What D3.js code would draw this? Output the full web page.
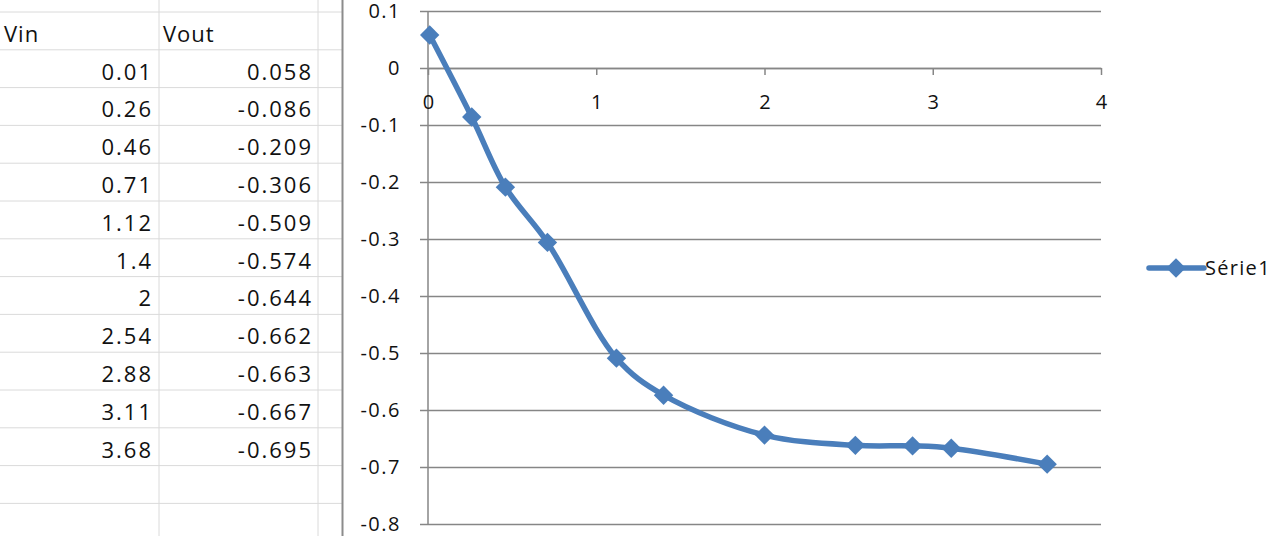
<!DOCTYPE html>
<html>
<head>
<meta charset="utf-8">
<script src="https://cdn.jsdelivr.net/npm/d3@7"></script>
<style>
  html, body { margin: 0; padding: 0; background: #fff; }
  svg text { font-family: "Open Sans", "DejaVu Sans", sans-serif; fill: #111; }
</style>
</head>
<body>
<div id="chart"></div>
<script>
// data read from the sheet / chart
var vin  = [0.01, 0.26, 0.46, 0.71, 1.12, 1.4, 2, 2.54, 2.88, 3.11, 3.68];
var vout = [0.058, -0.086, -0.209, -0.306, -0.509, -0.574, -0.644, -0.662, -0.663, -0.667, -0.695];
var headers = ["Vin", "Vout"];
var xTicks = [0, 1, 2, 3, 4];
var yTicks = [0.1, 0, -0.1, -0.2, -0.3, -0.4, -0.5, -0.6, -0.7, -0.8];
var seriesName = "Série1";

var W = 1280, H = 536;
var blue = "#4a7ebb";

// plain hyphen like the spreadsheet, not the unicode minus
function fmt(spec) {
    var f = d3.format(spec);
    return function(d) { return f(d).replace("\u2212", "-"); };
}

var svg = d3.select("#chart").append("svg")
    .attr("width", W)
    .attr("height", H);

//----------------------------------------------------------------
// spreadsheet part on the left
var table = svg.append("g").attr("class", "sheet");
var rowH = 37.8, top0 = 12;
var colX = [0, 159, 318];

// horizontal cell borders
for (var r = -1; r < 15; r++) {
    table.append("line")
        .attr("x1", 0).attr("x2", 342)
        .attr("y1", top0 + r * rowH).attr("y2", top0 + r * rowH)
        .attr("stroke", "#dadada").attr("stroke-width", 1);
}
// vertical cell borders
colX.slice(1).forEach(function(cx) {
    table.append("line")
        .attr("x1", cx).attr("x2", cx)
        .attr("y1", 0).attr("y2", H)
        .attr("stroke", "#dadada").attr("stroke-width", 1);
});

table.selectAll(".hdr")
    .data(headers)
    .enter().append("text")
    .attr("class", "hdr")
    .attr("x", function(d, i) { return i === 0 ? 4 : 163; })
    .attr("y", top0 + rowH - 8)
    .style("font-size", "22px")
    .style("letter-spacing", "1px")
    .text(function(d) { return d; });

var rows = vin.map(function(v, i) { return { a: v, b: vout[i] }; });
var rowG = table.selectAll(".row")
    .data(rows)
    .enter().append("g")
    .attr("class", "row")
    .attr("transform", function(d, i) { return "translate(0," + (top0 + (i + 2) * rowH - 8) + ")"; });
rowG.append("text")
    .attr("x", 153)
    .attr("text-anchor", "end")
    .style("font-size", "22px")
    .style("letter-spacing", "2px")
    .text(function(d) { return String(d.a); });
rowG.append("text")
    .attr("x", 313)
    .attr("text-anchor", "end")
    .style("font-size", "22px")
    .style("letter-spacing", "2px")
    .text(function(d) { return fmt(".3f")(d.b); });

// chart frame border
svg.append("line")
    .attr("x1", 342.5).attr("x2", 342.5)
    .attr("y1", 0).attr("y2", H)
    .attr("stroke", "#8c8c8c").attr("stroke-width", 2);

//----------------------------------------------------------------
// chart
var x = d3.scaleLinear().domain([0, 4]).range([428, 1101]);
var y = d3.scaleLinear().domain([-0.8, 0.1]).range([524, 11]);
var gridColor = "#868686";

// horizontal gridlines + y labels
var yAxis = d3.axisLeft(y)
    .tickValues(yTicks)
    .tickSize(-(x.range()[1] - 420))
    .tickPadding(19)
    .tickFormat(fmt(".1~f"));
var gy = svg.append("g")
    .attr("transform", "translate(420,0)")
    .call(yAxis);
gy.select(".domain").remove();
gy.selectAll(".tick line").attr("stroke", gridColor).attr("stroke-width", 1.5);
gy.selectAll(".tick text")
    .style("font-size", "20px")
    .style("letter-spacing", "1.5px")
    .attr("dy", "0.34em")
    .style("font-family", "'Open Sans', sans-serif");

// vertical axis line
svg.append("line")
    .attr("x1", x(0)).attr("x2", x(0))
    .attr("y1", y(0.1)).attr("y2", y(-0.8))
    .attr("stroke", gridColor).attr("stroke-width", 1.5);

// x axis on the zero line
var xAxis = d3.axisBottom(x)
    .tickValues(xTicks)
    .tickSizeInner(7)
    .tickSizeOuter(0)
    .tickPadding(20)
    .tickFormat(d3.format("d"));
var gx = svg.append("g")
    .attr("transform", "translate(0," + y(0) + ")")
    .call(xAxis);
gx.select(".domain").attr("stroke", gridColor).attr("stroke-width", 1.5);
gx.selectAll(".tick line").attr("stroke", gridColor).attr("stroke-width", 1.5);
gx.selectAll(".tick text")
    .style("font-size", "20px")
    .style("font-family", "'Open Sans', sans-serif");

// smoothed series line
var pts = vin.map(function(v, i) { return [x(v), y(vout[i])]; });
var line = d3.line().curve(d3.curveCatmullRom.alpha(0.5));
svg.append("path")
    .attr("d", line(pts))
    .attr("fill", "none")
    .attr("stroke", blue)
    .attr("stroke-width", 5.5)
    .attr("stroke-linejoin", "round");

// diamond markers
var diamond = d3.symbol().type(d3.symbolDiamond2).size(240);
svg.selectAll(".mark")
    .data(pts)
    .enter().append("path")
    .attr("class", "mark")
    .attr("transform", function(d) { return "translate(" + d[0] + "," + d[1] + ")"; })
    .attr("d", diamond)
    .attr("fill", blue);

// legend
var lg = svg.append("g").attr("transform", "translate(1148,268)");
lg.append("line")
    .attr("x1", 1).attr("x2", 56)
    .attr("stroke", blue).attr("stroke-width", 5.5)
    .attr("stroke-linecap", "round");
lg.append("path")
    .attr("transform", "translate(28,0)")
    .attr("d", diamond)
    .attr("fill", blue);
lg.append("text")
    .attr("x", 57)
    .attr("y", 7)
    .style("font-size", "20px")
    .style("letter-spacing", "1.3px")
    .text(seriesName);
</script>
</body>
</html>
